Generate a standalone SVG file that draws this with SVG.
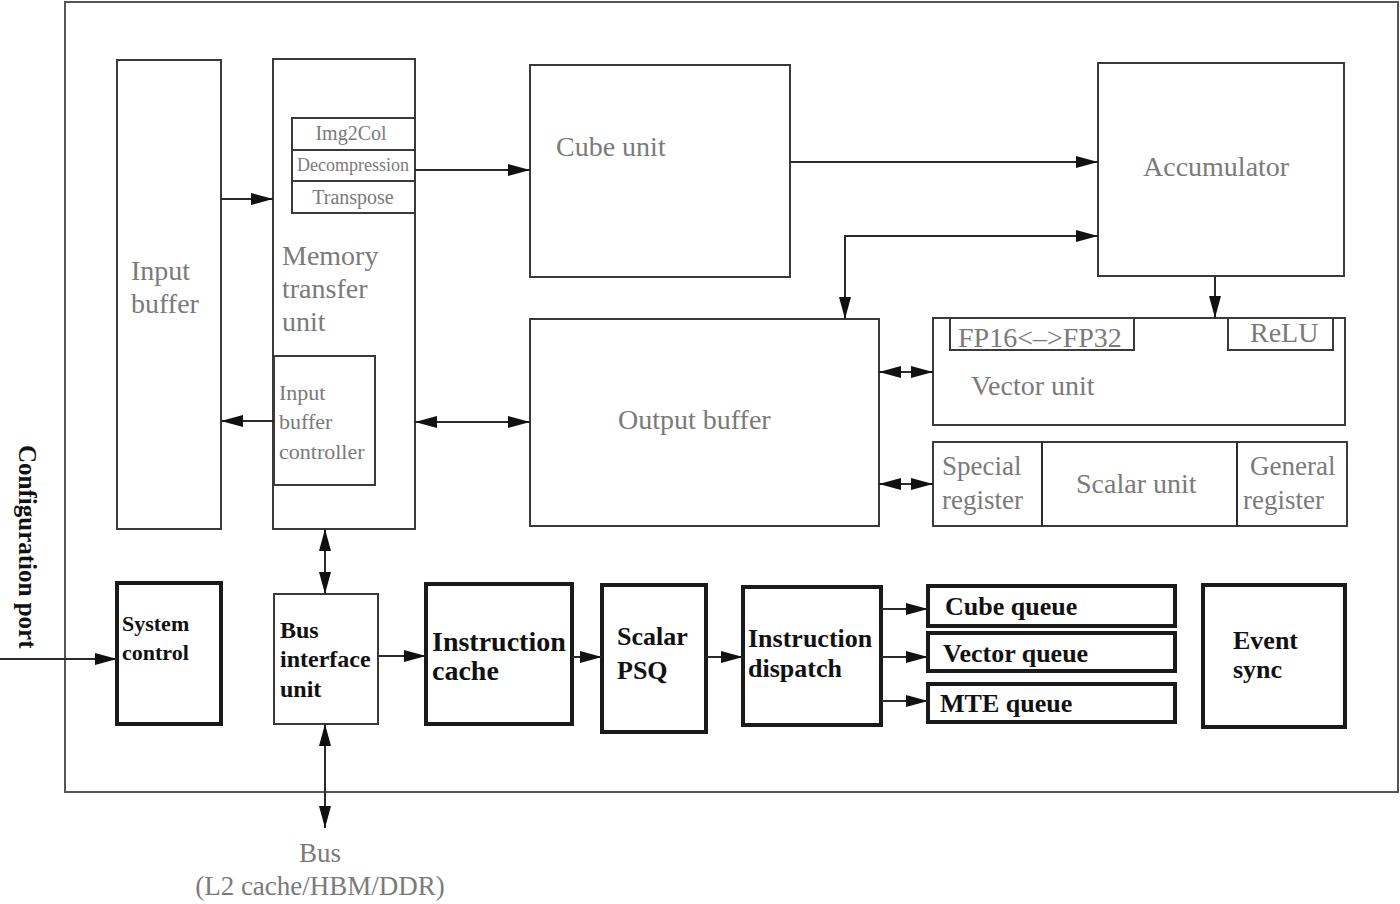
<svg xmlns="http://www.w3.org/2000/svg" width="1400" height="904" viewBox="0 0 1400 904">
<style>
.box{fill:#fff;stroke:#3a3a3a;stroke-width:2}
.thick{fill:#fff;stroke:#1a1a1a;stroke-width:4}
.g{font-family:"Liberation Serif","Times New Roman",serif;fill:#7a7a7a}
.b{font-family:"Liberation Serif","Times New Roman",serif;font-weight:bold;fill:#111}
.c{fill:none;stroke:#2a2a2a;stroke-width:2}
</style>
<defs>
<marker id="ah" markerUnits="userSpaceOnUse" markerWidth="24" markerHeight="12" refX="22" refY="6" orient="auto-start-reverse">
<path d="M0,0 L22,6 L0,12 Z" fill="#111"/>
</marker>
</defs>
<rect x="0" y="0" width="1400" height="904" fill="#fff"/>
<rect id="frame" x="65" y="2" width="1333" height="790" fill="none" stroke="#555" stroke-width="2"/>

<g id="input-buffer">
<rect class="box" x="117" y="60" width="104" height="469"/>
<text class="g" font-size="28" x="131" y="280">Input</text>
<text class="g" font-size="28" x="131" y="313">buffer</text>
</g>
<g id="memory-transfer-unit">
<rect class="box" x="273" y="59" width="142" height="470"/>
<text class="g" font-size="28" x="282" y="265">Memory</text>
<text class="g" font-size="28" x="282" y="298">transfer</text>
<text class="g" font-size="28" x="282" y="331">unit</text>
</g>
<g id="img2col">
<rect class="box" x="292" y="118" width="123" height="32"/>
<text class="g" font-size="20" x="351" y="140" text-anchor="middle">Img2Col</text>
</g>
<g id="decompression">
<rect class="box" x="292" y="150" width="123" height="31"/>
<text class="g" font-size="18" x="353" y="171" text-anchor="middle">Decompression</text>
</g>
<g id="transpose">
<rect class="box" x="292" y="181" width="123" height="32"/>
<text class="g" font-size="20" x="353" y="204" text-anchor="middle">Transpose</text>
</g>
<g id="input-buffer-controller">
<rect class="box" x="274" y="356" width="101" height="129"/>
<text class="g" font-size="22" x="279" y="400">Input</text>
<text class="g" font-size="22" x="279" y="429">buffer</text>
<text class="g" font-size="22" x="279" y="459">controller</text>
</g>
<g id="cube-unit">
<rect class="box" x="530" y="65" width="260" height="212"/>
<text class="g" font-size="28" x="556" y="156">Cube unit</text>
</g>
<g id="accumulator">
<rect class="box" x="1098" y="63" width="246" height="213"/>
<text class="g" font-size="28" x="1143" y="176">Accumulator</text>
</g>
<g id="output-buffer">
<rect class="box" x="530" y="319" width="349" height="207"/>
<text class="g" font-size="28" x="618" y="429">Output buffer</text>
</g>
<g id="vector-unit">
<rect class="box" x="933" y="318" width="412" height="107"/>
<text class="g" font-size="28" x="971" y="395">Vector unit</text>
</g>
<g id="fp16-fp32">
<rect class="box" x="950" y="318" width="184" height="32"/>
<text class="g" font-size="28" x="958" y="347">FP16&lt;–&gt;FP32</text>
</g>
<g id="relu">
<rect class="box" x="1228" y="318" width="105" height="32"/>
<text class="g" font-size="28" x="1250" y="342">ReLU</text>
</g>
<g id="scalar-unit">
<rect class="box" x="933" y="442" width="414" height="84"/>
<line class="c" x1="1042" y1="442" x2="1042" y2="526"/>
<line class="c" x1="1237" y1="442" x2="1237" y2="526"/>
<text class="g" font-size="27" x="942" y="475">Special</text>
<text class="g" font-size="27" x="942" y="509">register</text>
<text class="g" font-size="28" x="1076" y="493">Scalar unit</text>
<text class="g" font-size="27" x="1250" y="475">General</text>
<text class="g" font-size="27" x="1243" y="509">register</text>
</g>
<g id="system-control">
<rect class="thick" x="117" y="583" width="104" height="141"/>
<text class="b" font-size="22" x="122" y="631">System</text>
<text class="b" font-size="22" x="122" y="660">control</text>
</g>
<g id="bus-interface-unit">
<rect class="box" x="274" y="594" width="104" height="130"/>
<text class="b" font-size="24" x="280" y="638">Bus</text>
<text class="b" font-size="24" x="280" y="667">interface</text>
<text class="b" font-size="24" x="280" y="697">unit</text>
</g>
<g id="instruction-cache">
<rect class="thick" x="426" y="584" width="146" height="140"/>
<text class="b" font-size="28" x="432" y="651">Instruction</text>
<text class="b" font-size="28" x="432" y="680">cache</text>
</g>
<g id="scalar-psq">
<rect class="thick" x="602" y="585" width="104" height="147"/>
<text class="b" font-size="26" x="617" y="645">Scalar</text>
<text class="b" font-size="26" x="617" y="679">PSQ</text>
</g>
<g id="instruction-dispatch">
<rect class="thick" x="743" y="587" width="138" height="138"/>
<text class="b" font-size="26" x="748" y="647">Instruction</text>
<text class="b" font-size="26" x="748" y="677">dispatch</text>
</g>
<g id="cube-queue">
<rect class="thick" x="928" y="586" width="247" height="40"/>
<text class="b" font-size="26" x="945" y="615">Cube queue</text>
</g>
<g id="vector-queue">
<rect class="thick" x="928" y="633" width="247" height="38"/>
<text class="b" font-size="26" x="943" y="662">Vector queue</text>
</g>
<g id="mte-queue">
<rect class="thick" x="928" y="684" width="247" height="38"/>
<text class="b" font-size="26" x="940" y="712">MTE queue</text>
</g>
<g id="event-sync">
<rect class="thick" x="1203" y="585" width="142" height="142"/>
<text class="b" font-size="26" x="1233" y="649">Event</text>
<text class="b" font-size="26" x="1233" y="678">sync</text>
</g>
<g id="bus-label">
<text class="g" font-size="27" x="320" y="862" text-anchor="middle">Bus</text>
<text class="g" font-size="27" x="320" y="895" text-anchor="middle">(L2 cache/HBM/DDR)</text>
</g>
<g id="configuration-port">
<text class="b" font-size="25" transform="translate(19,445) rotate(90)">Configuration port</text>
</g>

<g id="connectors">
<line class="c" x1="221" y1="199" x2="273" y2="199" marker-end="url(#ah)"/>
<line class="c" x1="415" y1="170" x2="530" y2="170" marker-end="url(#ah)"/>
<line class="c" x1="790" y1="162" x2="1098" y2="162" marker-end="url(#ah)"/>
<polyline class="c" points="845,319 845,236 1098,236" marker-start="url(#ah)" marker-end="url(#ah)"/>
<line class="c" x1="1215" y1="276" x2="1215" y2="318" marker-end="url(#ah)"/>
<line class="c" x1="879" y1="372" x2="933" y2="372" marker-start="url(#ah)" marker-end="url(#ah)"/>
<line class="c" x1="879" y1="484" x2="933" y2="484" marker-start="url(#ah)" marker-end="url(#ah)"/>
<line class="c" x1="415" y1="422" x2="530" y2="422" marker-start="url(#ah)" marker-end="url(#ah)"/>
<line class="c" x1="274" y1="421" x2="221" y2="421" marker-end="url(#ah)"/>
<line class="c" x1="325" y1="529" x2="325" y2="594" marker-start="url(#ah)" marker-end="url(#ah)"/>
<line class="c" x1="325" y1="724" x2="325" y2="828" marker-start="url(#ah)" marker-end="url(#ah)"/>
<line class="c" x1="0" y1="659" x2="117" y2="659" marker-end="url(#ah)"/>
<line class="c" x1="378" y1="656" x2="426" y2="656" marker-end="url(#ah)"/>
<line class="c" x1="572" y1="657" x2="602" y2="657" marker-end="url(#ah)"/>
<line class="c" x1="706" y1="657" x2="743" y2="657" marker-end="url(#ah)"/>
<line class="c" x1="881" y1="609" x2="928" y2="609" marker-end="url(#ah)"/>
<line class="c" x1="881" y1="657" x2="928" y2="657" marker-end="url(#ah)"/>
<line class="c" x1="881" y1="701" x2="928" y2="701" marker-end="url(#ah)"/>
</g>
</svg>
